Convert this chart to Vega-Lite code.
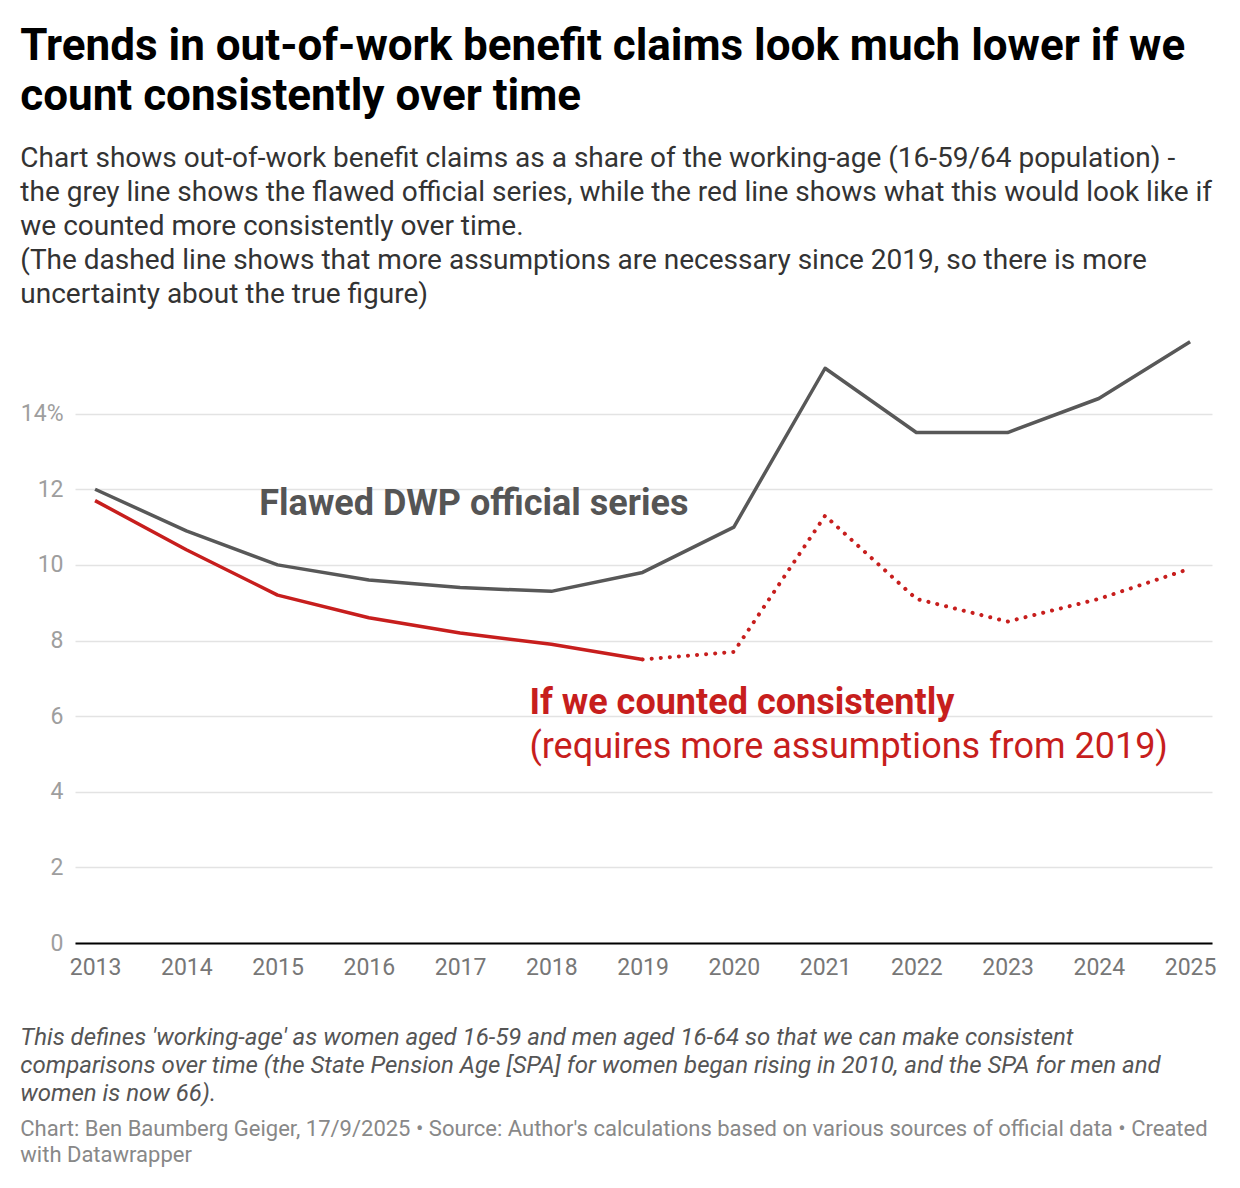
{
  "$schema": "https://vega.github.io/schema/vega-lite/v6.json",
  "background": "white",
  "padding": {"left": 20, "top": 25, "right": 20, "bottom": 5},
  "title": {
    "text": ["Trends in out-of-work benefit claims look much lower if we", "count consistently over time"],
    "subtitle": [
      "Chart shows out-of-work benefit claims as a share of the working-age (16-59/64 population) -",
      "the grey line shows the flawed official series, while the red line shows what this would look like if",
      "we counted more consistently over time.",
      "(The dashed line shows that more assumptions are necessary since 2019, so there is more",
      "uncertainty about the true figure)"
    ],
    "anchor": "start",
    "frame": "bounds",
    "font": "Roboto",
    "fontSize": 44,
    "fontWeight": "bold",
    "color": "#000000",
    "lineHeight": 50,
    "subtitleFont": "Roboto",
    "subtitleFontSize": 28,
    "subtitleColor": "#333333",
    "subtitleLineHeight": 34,
    "subtitlePadding": 26,
    "offset": 29
  },
  "vconcat": [
    {
      "width": 1137,
      "height": 605,
      "title": {
        "text": [
          "This defines 'working-age' as women aged 16-59 and men aged 16-64 so that we can make consistent",
          "comparisons over time (the State Pension Age [SPA] for women began rising in 2010, and the SPA for men and",
          "women is now 66)."
        ],
        "subtitle": [
          "Chart: Ben Baumberg Geiger, 17/9/2025 • Source: Author's calculations based on various sources of official data • Created",
          "with Datawrapper"
        ],
        "orient": "bottom",
        "anchor": "start",
        "frame": "bounds",
        "font": "Roboto",
        "fontSize": 24,
        "fontStyle": "italic",
        "fontWeight": "normal",
        "color": "#555555",
        "lineHeight": 28,
        "subtitleFont": "Roboto",
        "subtitleFontSize": 22,
        "subtitleFontStyle": "normal",
        "subtitleColor": "#888888",
        "subtitleLineHeight": 26,
        "subtitlePadding": 13,
        "offset": 47
      },
      "data": {
        "values": [
          {"year": 2013, "series": "official", "value": 12.0},
          {"year": 2014, "series": "official", "value": 10.9},
          {"year": 2015, "series": "official", "value": 10.0},
          {"year": 2016, "series": "official", "value": 9.6},
          {"year": 2017, "series": "official", "value": 9.4},
          {"year": 2018, "series": "official", "value": 9.3},
          {"year": 2019, "series": "official", "value": 9.8},
          {"year": 2020, "series": "official", "value": 11.0},
          {"year": 2021, "series": "official", "value": 15.2},
          {"year": 2022, "series": "official", "value": 13.5},
          {"year": 2023, "series": "official", "value": 13.5},
          {"year": 2024, "series": "official", "value": 14.4},
          {"year": 2025, "series": "official", "value": 15.9},
          {"year": 2013, "series": "consistent", "value": 11.7},
          {"year": 2014, "series": "consistent", "value": 10.4},
          {"year": 2015, "series": "consistent", "value": 9.2},
          {"year": 2016, "series": "consistent", "value": 8.6},
          {"year": 2017, "series": "consistent", "value": 8.2},
          {"year": 2018, "series": "consistent", "value": 7.9},
          {"year": 2019, "series": "consistent", "value": 7.5},
          {"year": 2019, "series": "estimate", "value": 7.5},
          {"year": 2020, "series": "estimate", "value": 7.7},
          {"year": 2021, "series": "estimate", "value": 11.3},
          {"year": 2022, "series": "estimate", "value": 9.1},
          {"year": 2023, "series": "estimate", "value": 8.5},
          {"year": 2024, "series": "estimate", "value": 9.1},
          {"year": 2025, "series": "estimate", "value": 9.9}
        ]
      },
      "encoding": {
        "x": {
          "field": "year",
          "type": "quantitative",
          "scale": {"domain": [2012.78, 2025.24], "nice": false, "zero": false},
          "axis": {
            "values": [2013, 2014, 2015, 2016, 2017, 2018, 2019, 2020, 2021, 2022, 2023, 2024, 2025],
            "format": "d",
            "title": null,
            "grid": false,
            "ticks": false,
            "domainColor": "#000000",
            "domainWidth": 2,
            "labelFont": "Roboto",
            "labelFontSize": 23,
            "labelColor": "#777777",
            "labelPadding": 13,
            "labelFlush": false
          }
        },
        "y": {
          "field": "value",
          "type": "quantitative",
          "scale": {"domain": [0, 16], "nice": false},
          "axis": {
            "values": [0, 2, 4, 6, 8, 10, 12, 14],
            "labelExpr": "datum.value == 14 ? '14%' : datum.label",
            "title": null,
            "domain": false,
            "ticks": false,
            "gridColor": "#e3e3e3",
            "gridWidth": 1.5,
            "labelFont": "Roboto",
            "labelFontSize": 23,
            "labelColor": "#9e9e9e",
            "labelPadding": 12
          }
        }
      },
      "layer": [
        {
          "transform": [{"filter": "datum.series == 'official'"}],
          "mark": {"type": "line", "color": "#585858", "strokeWidth": 3.5, "strokeJoin": "round"}
        },
        {
          "transform": [{"filter": "datum.series == 'consistent'"}],
          "mark": {"type": "line", "color": "#c71e1d", "strokeWidth": 3.5, "strokeJoin": "round"}
        },
        {
          "transform": [{"filter": "datum.series == 'estimate'"}],
          "mark": {"type": "line", "color": "#c71e1d", "strokeWidth": 4, "strokeCap": "round", "strokeDash": [0.1, 9]}
        },
        {
          "data": {"values": [{"year": 2014.8, "value": 11.62, "label": "Flawed DWP official series"}]},
          "mark": {"type": "text", "align": "left", "baseline": "middle", "font": "Roboto", "fontSize": 36, "fontWeight": "bold", "color": "#555555"},
          "encoding": {"text": {"field": "label"}}
        },
        {
          "data": {"values": [{"year": 2017.76, "value": 6.35, "label": "If we counted consistently"}]},
          "mark": {"type": "text", "align": "left", "baseline": "middle", "font": "Roboto", "fontSize": 36, "fontWeight": "bold", "color": "#c71e1d"},
          "encoding": {"text": {"field": "label"}}
        },
        {
          "data": {"values": [{"year": 2017.76, "value": 5.19, "label": "(requires more assumptions from 2019)"}]},
          "mark": {"type": "text", "align": "left", "baseline": "middle", "font": "Roboto", "fontSize": 36, "fontWeight": "normal", "color": "#c71e1d"},
          "encoding": {"text": {"field": "label"}}
        }
      ]
    }
  ],
  "config": {
    "view": {"stroke": null},
    "font": "Roboto"
  }
}
